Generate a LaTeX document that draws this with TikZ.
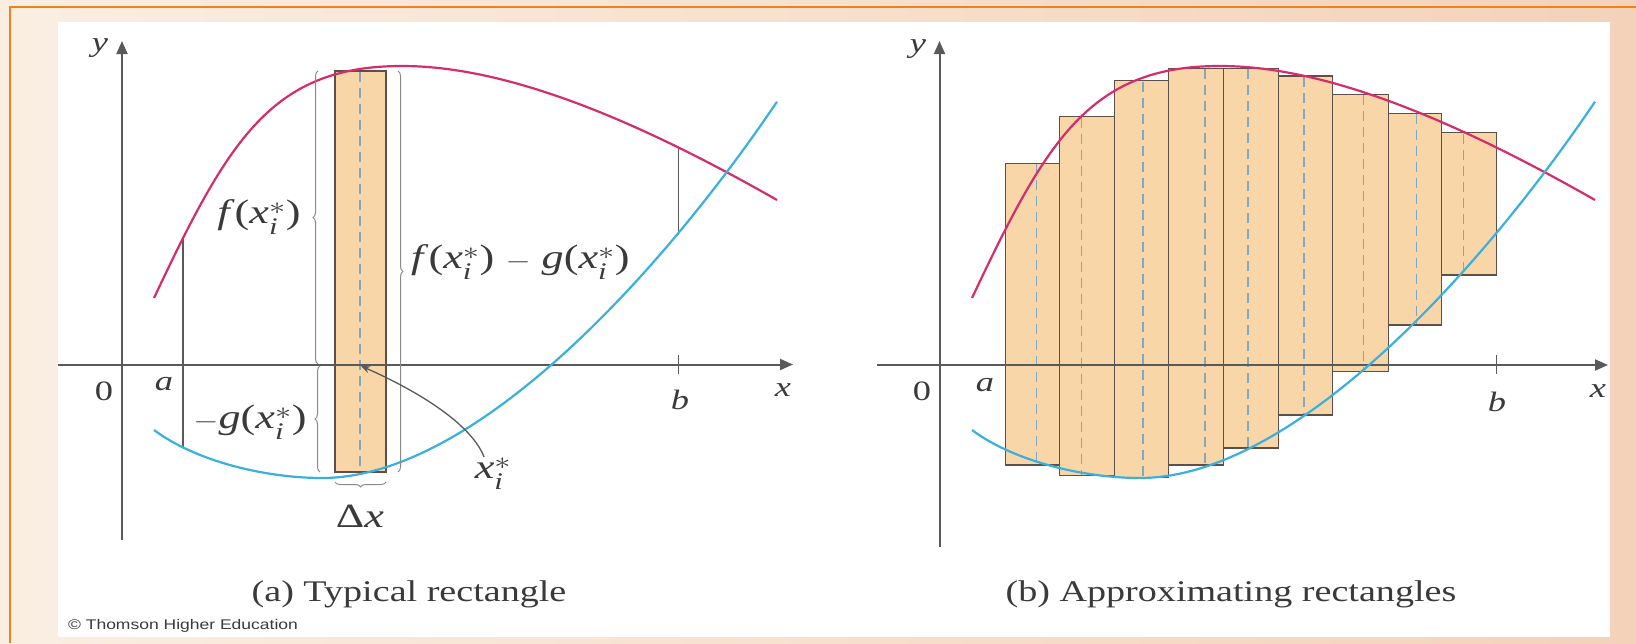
\documentclass[tikz,border=0pt]{standalone}
\usepackage{fontspec}
\usepackage{amsmath}
\setmainfont{Liberation Serif}
\newfontfamily\sansf{Liberation Sans}
\usetikzlibrary{arrows.meta,decorations.pathreplacing}
\definecolor{pinkc}{HTML}{D42D6E}
\definecolor{bluec}{HTML}{3AB0DE}
\definecolor{rectfill}{HTML}{F9D6A8}
\definecolor{rectdraw}{HTML}{5E5048}
\definecolor{dashc}{HTML}{82A9BA}
\definecolor{axisc}{HTML}{5A5A5A}
\definecolor{txtc}{HTML}{3A3A3A}
\definecolor{bracec}{HTML}{8A8A8A}
\definecolor{orangec}{HTML}{F0821E}
\definecolor{bgl}{HTML}{FAEEE2}
\definecolor{bgr}{HTML}{F4D2BA}
\newcommand{\sx}[1]{\scalebox{1.3}[1]{#1}}
\newcommand{\xis}{\textit{x}$^{\ast}_{\textit{i}}$}
\newcommand{\fcurve}{\draw[fline] (972,298) .. controls (1047,139) and (1090,66) .. (1220,66) .. controls (1320,66) and (1445,114.5) .. (1595,200);}
\newcommand{\gcurve}{\draw[gline] (972,430) .. controls (1015,462) and (1085,478) .. (1140,478) .. controls (1290,478) and (1475,279.3) .. (1595,101.7);}
\begin{document}
\begin{tikzpicture}[x=1pt,y=-1pt,
  fline/.style={pinkc,line width=2.2pt},
  gline/.style={bluec,line width=2.2pt},
  axisline/.style={axisc,line width=2pt,-{Triangle[length=13pt,width=11pt]}},
  rectbox/.style={fill=rectfill,draw=rectdraw,line width=1.4pt},
  dashln/.style={dashc,line width=1.4pt,dash pattern=on 10pt off 6pt},
  thinln/.style={axisc,line width=1.4pt},
  bracest/.style={bracec,line width=1pt,decorate,decoration={brace,amplitude=5pt}},
  lbl/.style={inner sep=0pt,text=txtc,font=\fontsize{34}{40}\selectfont},
  axl/.style={inner sep=0pt,text=txtc,font=\fontsize{28}{32}\selectfont},
  capt/.style={inner sep=0pt,text=txtc,font=\fontsize{30}{36}\selectfont}]
\useasboundingbox (0,0) rectangle (1636,643);
% background
\shade[left color=bgl,right color=bgr] (0,0) rectangle (1636,643);
\draw[orangec,line width=2.2pt] (10,643) -- (10,7) -- (1636,7);
\fill[white] (58,22) rectangle (1610,637);

% ================= left panel =================
\coordinate (lyb) at (122,540);
\coordinate (lyt) at (122,41);
\coordinate (lxl) at (58,364.5);
\coordinate (lxr) at (793,364.5);
\draw[axisline] (lyb) -- (lyt);
\draw[axisline] (lxl) -- (lxr);
\coordinate (bt1) at (678.5,355);
\coordinate (bt2) at (678.5,374);
\draw[thinln] (bt1) -- (bt2);
% rectangle
\coordinate (r1) at (335,71);
\coordinate (r2) at (386,472);
\draw[rectbox] (r1) rectangle (r2);
\coordinate (dl1) at (360,72);
\coordinate (dl2) at (360,471);
\draw[dashln] (dl1) -- (dl2);
\draw[axisc,line width=2pt] (335,364.5) -- (386,364.5);
% vertical lines at a and b
\coordinate (la1) at (183,238);
\coordinate (la2) at (183,447);
\draw[thinln] (la1) -- (la2);
\coordinate (lb1) at (678.5,147);
\coordinate (lb2) at (678.5,235);
\draw[thinln] (lb1) -- (lb2);
\begin{scope}[xshift=-818pt]
\fcurve
\gcurve
\end{scope}
% braces
\coordinate (bfA) at (318,364);
\coordinate (bfB) at (318,71);
\draw[bracest] (bfA) -- (bfB);
\coordinate (bgA) at (320,472);
\coordinate (bgB) at (320,366);
\draw[bracest] (bgA) -- (bgB);
\coordinate (bdA) at (398,71);
\coordinate (bdB) at (398,472);
\draw[bracest] (bdA) -- (bdB);
\coordinate (bxA) at (386,482);
\coordinate (bxB) at (335,482);
\draw[bracest] (bxA) -- (bxB);
% labels
\node[axl] (l0) at (104,391) {\sx{0}};
\node[axl] (la) at (164,384) {\sx{\textit{a}}};
\node[axl] (lb) at (680,400) {\sx{\textit{b}}};
\node[axl] (lx) at (783,390) {\sx{\textit{x}}};
\node[axl] (ly) at (100,48) {\sx{\textit{y}}};
\node[lbl] (lf) at (259,217) {\sx{\textit{f}(\xis)}};
\node[lbl] (lg) at (250,422) {\sx{$-$\textit{g}(\xis)}};
\node[lbl,anchor=west] (lfg) at (411,262) {\sx{\textit{f}(\xis) $-$ \textit{g}(\xis)}};
\node[lbl] (lxs) at (493,474) {\sx{\xis}};
\node[lbl] (ldx) at (360,516) {\sx{Δ\textit{x}}};
\coordinate (arS) at (484,457);
\coordinate (arE) at (361,366);
\draw[axisc,line width=1.3pt,-{Stealth[length=9pt,width=7pt]}] (arS) .. controls (472,425) and (420,392) .. (arE);
\node[capt] (capa) at (409,594) {\scalebox{1.27}[1]{(a) Typical rectangle}};
\node[inner sep=0pt,text=txtc,font=\sansf\fontsize{14}{16}\selectfont] (copy) at (183,626) {\scalebox{1.25}[1]{© Thomson Higher Education}};

% ================= right panel =================
\coordinate (ryb) at (939.5,547);
\coordinate (ryt) at (939.5,41);
\coordinate (rxl) at (877,365);
\coordinate (rxr) at (1608,365);
\draw[axisline] (ryb) -- (ryt);
\foreach \l/\r/\t/\b/\d in {1005.7/1059.3/163.3/465/1036.7,
  1059.3/1114.3/116.7/475.5/1081.7,
  1114.3/1168.3/80.5/477.7/1143,
  1168.3/1223.3/68.3/465/1205,
  1223.3/1278.3/68.3/448/1248,
  1278.3/1332.7/76/415/1304,
  1332.7/1388.3/94.3/371.7/1363.3,
  1388.3/1441.7/113.3/325/1416.7,
  1441.7/1496.7/132.7/275/1463.3}{
  \draw[rectbox] (\l,\t) rectangle (\r,\b);
  \draw[dashln] (\d,\t+1) -- (\d,\b-1);
}
\draw[axisline] (rxl) -- (rxr);
\coordinate (rbt1) at (1496.7,355);
\coordinate (rbt2) at (1496.7,374);
\draw[thinln] (rbt1) -- (rbt2);
\fcurve
\gcurve
\node[axl] (r0) at (922,391) {\sx{0}};
\node[axl] (ra) at (985,385) {\sx{\textit{a}}};
\node[axl] (rb) at (1497,402) {\sx{\textit{b}}};
\node[axl] (rx) at (1598,391) {\sx{\textit{x}}};
\node[axl] (ry) at (918,49) {\sx{\textit{y}}};
\node[capt] (capb) at (1231,594) {\scalebox{1.27}[1]{(b) Approximating rectangles}};
\end{tikzpicture}
\end{document}
